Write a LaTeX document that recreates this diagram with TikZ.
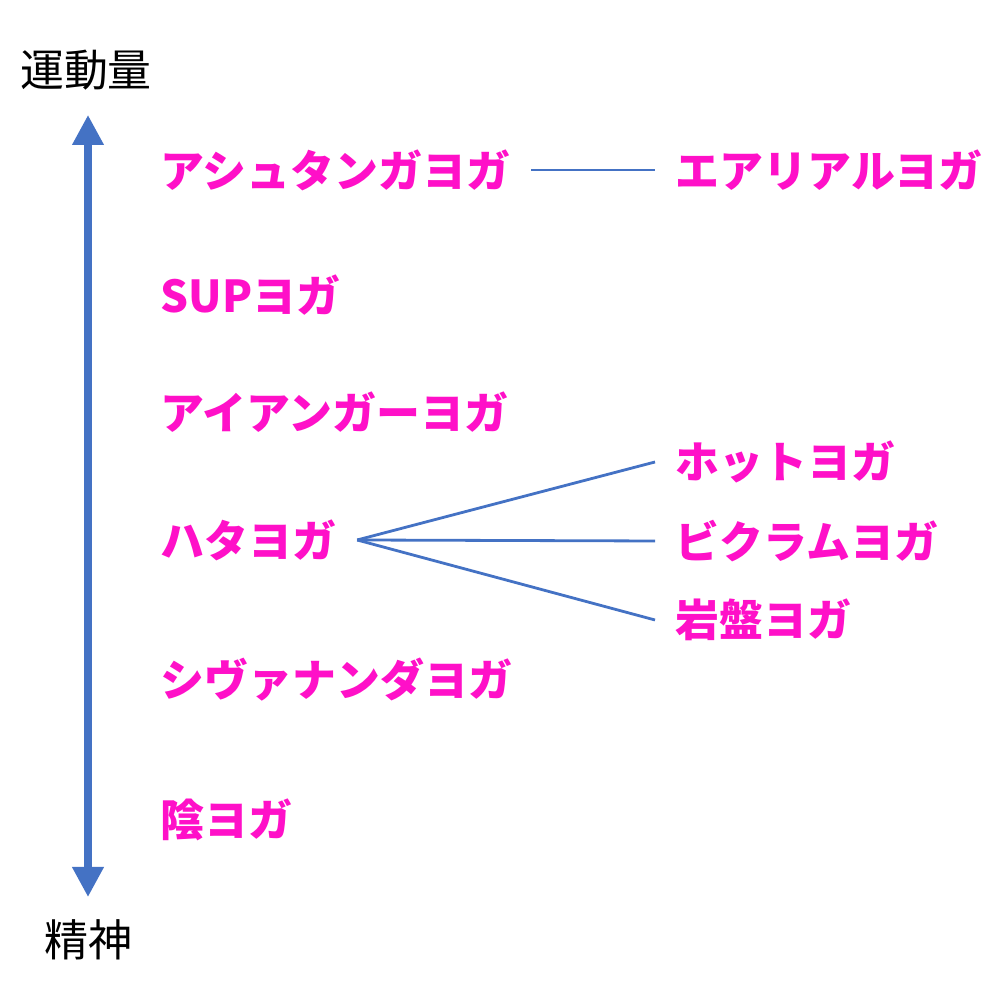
\documentclass[tikz,border=0pt]{standalone}
\usepackage{fontspec}
\setmainfont{Noto Sans CJK JP}
\usetikzlibrary{arrows.meta}
\definecolor{yogapink}{HTML}{FF10C8}
\definecolor{axisblue}{HTML}{4472C4}
\tikzset{
  yoga/.style={anchor=west, text=yogapink, font=\fontsize{12.5}{15}\selectfont\bfseries, inner xsep=0.2cm},
  axislabel/.style={text=black, font=\fontsize{12.5}{15}\selectfont},
  link/.style={draw=axisblue, line width=0.28mm}
}
\begin{document}
\begin{tikzpicture}
  \useasboundingbox (0,0) rectangle (10,10);
  \node[axislabel] (momentum) at (0.86,9.30) {運動量};
  \node[axislabel] (spirit) at (0.88,0.60) {精神};
  \coordinate (top) at (0.88,8.85);
  \coordinate (bottom) at (0.88,1.03);
  \draw[axisblue, line width=2pt, {Triangle[width=0.3cm,length=0.3cm]}-{Triangle[width=0.3cm,length=0.3cm]}] (top) -- (bottom);

  \node[yoga] (ashtanga) at (1.40,8.30) {アシュタンガヨガ};
  \node[yoga] (sup) at (1.40,7.05) {SUPヨガ};
  \node[yoga] (iyengar) at (1.40,5.88) {アイアンガーヨガ};
  \node[yoga] (hatha) at (1.40,4.60) {ハタヨガ};
  \node[yoga] (sivananda) at (1.40,3.20) {シヴァナンダヨガ};
  \node[yoga] (yin) at (1.40,1.80) {陰ヨガ};

  \node[yoga] (aerial) at (6.55,8.30) {エアリアルヨガ};
  \node[yoga] (hot) at (6.55,5.38) {ホットヨガ};
  \node[yoga] (bikram) at (6.55,4.59) {ビクラムヨガ};
  \node[yoga] (ganban) at (6.55,3.80) {岩盤ヨガ};

  \draw[link] (ashtanga.east) -- (aerial.west);
  \draw[link] (hatha.east) -- (hot.west);
  \draw[link] (hatha.east) -- (bikram.west);
  \draw[link] (hatha.east) -- (ganban.west);
\end{tikzpicture}
\end{document}
